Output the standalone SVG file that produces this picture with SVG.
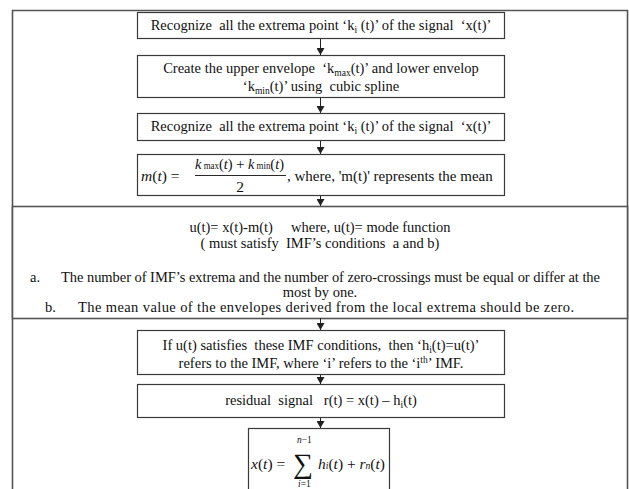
<svg xmlns="http://www.w3.org/2000/svg" width="629" height="489" viewBox="0 0 629 489">
<defs>
<style>
.box{fill:#fff;stroke:#3a3a3a;stroke-width:1.2}
.frame{fill:none;stroke:#555;stroke-width:1.6}
text{font-family:"Liberation Serif","Times New Roman",serif;fill:#111;white-space:pre}
.t{font-size:14.5px;text-anchor:middle}
.tl{font-size:14.5px}
.i{font-style:italic}
.c{stroke:#222;stroke-width:1;fill:none}
</style>
<marker id="ah" markerWidth="8" markerHeight="8" refX="7" refY="4" orient="auto" markerUnits="userSpaceOnUse">
<path d="M0,0 L7,4 L0,8 Z" fill="#222"/>
</marker>
</defs>
<rect width="629" height="489" fill="#fff"/>
<path class="frame" d="M12.5,489 V10.5 H627.5 V489"/>
<g id="wide">
<rect class="box" x="12.5" y="206.5" width="615" height="112" style="stroke:#555;stroke-width:1.6"/>
<text class="t" x="320" y="232">u(t)= x(t)-m(t)     where, u(t)= mode function</text>
<text class="t" x="320" y="248">( must satisfy  IMF’s conditions  a and b)</text>
<text class="tl" x="30" y="282">a.</text>
<text class="tl" x="61" y="282" textLength="539" lengthAdjust="spacing">The number of IMF’s extrema and the number of zero-crossings must be equal or differ at the</text>
<text class="t" x="320" y="297">most by one.</text>
<text class="tl" x="45" y="312">b.</text>
<text class="tl" x="78" y="312" textLength="496" lengthAdjust="spacing">The mean value of the envelopes derived from the local extrema should be zero.</text>
</g>
<g id="connectors">
<line class="c" x1="320.5" y1="38" x2="320.5" y2="55" marker-end="url(#ah)"/>
<line class="c" x1="320.5" y1="97" x2="320.5" y2="113" marker-end="url(#ah)"/>
<line class="c" x1="320.5" y1="140" x2="320.5" y2="154" marker-end="url(#ah)"/>
<line class="c" x1="320.5" y1="195" x2="320.5" y2="206" marker-end="url(#ah)"/>
<line class="c" x1="320.5" y1="318" x2="320.5" y2="330" marker-end="url(#ah)"/>
<line class="c" x1="320.5" y1="374" x2="320.5" y2="384" marker-end="url(#ah)"/>
<line class="c" x1="320.5" y1="417" x2="320.5" y2="428" marker-end="url(#ah)"/>
</g>
<g id="n1">
<rect class="box" x="137.5" y="12.5" width="367" height="26"/>
<text class="t" x="321" y="30">Recognize  all the extrema point ‘k<tspan font-size="9.5" dy="3">i</tspan><tspan dy="-3"> (t)’ of the signal  ‘x(t)’</tspan></text>
</g>
<g id="n2">
<rect class="box" x="137.5" y="55.5" width="367" height="42"/>
<text class="t" x="321" y="73">Create the upper envelope  ‘k<tspan font-size="9.5" dy="3">max</tspan><tspan dy="-3">(t)’ and lower envelop</tspan></text>
<text class="t" x="321" y="91">‘k<tspan font-size="9.5" dy="3">min</tspan><tspan dy="-3">(t)’ using  cubic spline</tspan></text>
</g>
<g id="n3">
<rect class="box" x="137.5" y="113.5" width="367" height="27"/>
<text class="t" x="321" y="131">Recognize  all the extrema point ‘k<tspan font-size="9.5" dy="3">i</tspan><tspan dy="-3"> (t)’ of the signal  ‘x(t)’</tspan></text>
</g>
<g id="n4">
<rect class="box" x="137.5" y="154.5" width="367" height="41"/>
<text x="141" y="181" style="font-size:15.5px"><tspan class="i">m</tspan>(<tspan class="i">t</tspan>) =</text>
<text x="195" y="169" style="font-size:15.5px" textLength="89" lengthAdjust="spacingAndGlyphs"><tspan class="i">k</tspan><tspan style="font-size:9.5px"> max</tspan>(<tspan class="i">t</tspan>) + <tspan class="i">k</tspan><tspan style="font-size:9.5px"> min</tspan>(<tspan class="i">t</tspan>)</text>
<line x1="195" y1="175.5" x2="286" y2="175.5" stroke="#111" stroke-width="0.9"/>
<text x="240" y="192" style="font-size:15.5px;text-anchor:middle">2</text>
<text x="287" y="181" style="font-size:15px">, where, 'm(t)' represents the mean</text>
</g>
<g id="n5">
<rect class="box" x="137.5" y="330.5" width="367" height="44"/>
<text class="t" x="321" y="350">If u(t) satisfies  these IMF conditions,  then ‘h<tspan font-size="9.5" dy="3">i</tspan><tspan dy="-3">(t)=u(t)’</tspan></text>
<text class="t" x="321" y="368">refers to the IMF, where ‘i’ refers to the ‘i<tspan font-size="9.5" dy="-5">th</tspan><tspan dy="5">’ IMF.</tspan></text>
</g>
<g id="n6">
<rect class="box" x="137.5" y="384.5" width="367" height="33"/>
<text class="t" x="321" y="405">residual  signal   r(t) = x(t) – h<tspan font-size="9.5" dy="3">i</tspan><tspan dy="-3">(t)</tspan></text>
</g>
<g id="n7">
<rect class="box" x="248.5" y="428.5" width="141" height="70"/>
<text x="251" y="469" style="font-size:15.5px"><tspan class="i">x</tspan>(<tspan class="i">t</tspan>) =</text>
<text x="293" y="473" style="font-size:28px">∑</text>
<text x="297" y="443" style="font-size:9.5px"><tspan class="i">n</tspan>−1</text>
<text x="298" y="487" style="font-size:9.5px"><tspan class="i">i</tspan>=1</text>
<text x="318" y="469" style="font-size:15.5px"><tspan class="i">h</tspan><tspan class="i" style="font-size:9.5px">i</tspan>(<tspan class="i">t</tspan>) + <tspan class="i">r</tspan><tspan class="i" style="font-size:9.5px">n</tspan>(<tspan class="i">t</tspan>)</text>
</g>
</svg>
